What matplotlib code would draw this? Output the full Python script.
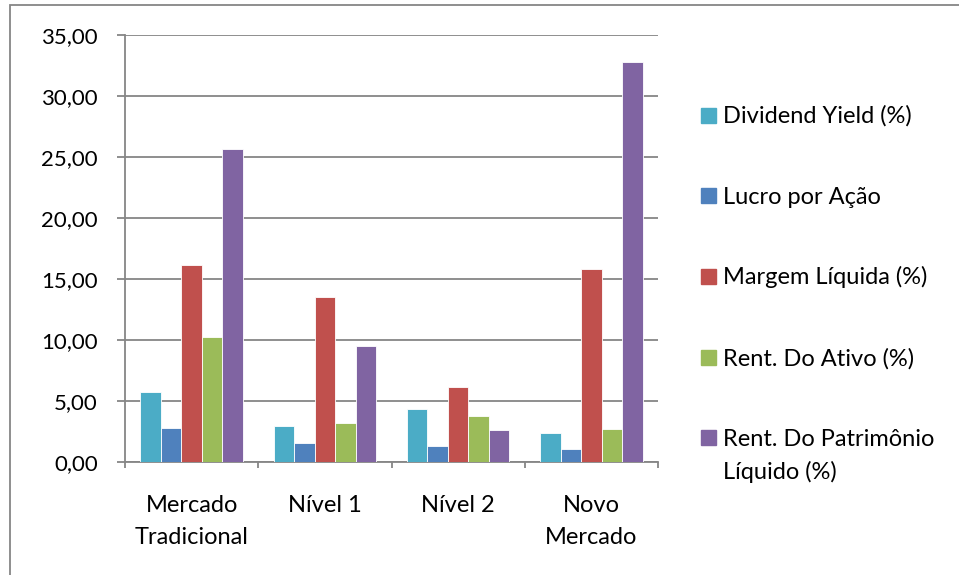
import matplotlib
matplotlib.use('Agg')
import matplotlib.pyplot as plt
from matplotlib.patches import Rectangle
from matplotlib.ticker import FuncFormatter
import numpy as np

plt.rcParams['font.family'] = ['Lato', 'DejaVu Sans']

# segmentos de listagem
categorias = ['Mercado\nTradicional', 'Nível 1', 'Nível 2', 'Novo\nMercado']
series = ['Dividend Yield (%)', 'Lucro por Ação', 'Margem Líquida (%)',
          'Rent. Do Ativo (%)', 'Rent. Do Patrimônio\nLíquido (%)']
dividend_yield = [5.69, 2.95, 4.34, 2.33]
lucro_acao = [2.79, 1.50, 1.29, 1.07]
margem_liquida = [16.15, 13.47, 6.12, 15.82]
rent_ativo = [10.19, 3.20, 3.75, 2.70]
rent_pl = [25.60, 9.51, 2.60, 32.74]
cores = ['#4BACC6', '#4F81BD', '#C0504D', '#9BBB59', '#8064A2']

valores = [dividend_yield, lucro_acao, margem_liquida, rent_ativo, rent_pl]

W, H = 959, 575
fonte = 17
fig = plt.figure(figsize=(W / 100, H / 100), dpi=100)
ax = fig.add_axes([125 / W, (H - 461.7) / H, (658 - 125) / W, (461.7 - 34.7) / H])

cinza = '#868686'
largura = 0.154
x = np.arange(len(categorias))
for k, (nome, vals, cor) in enumerate(zip(series, valores, cores)):
    ax.bar(x + (k - 2) * largura, vals, largura, color=cor,
           edgecolor='white', linewidth=0.6, zorder=3)

ax.set_xlim(-0.5, len(categorias) - 0.5)
ax.set_ylim(0, 35)
ax.set_yticks(np.arange(0, 36, 5))
ax.yaxis.set_major_formatter(FuncFormatter(lambda v, p: f'{v:.2f}'.replace('.', ',')))
ax.grid(axis='y', color=cinza, linewidth=1.3, zorder=0)

# divisões entre categorias e rótulos centralizados
ax.set_xticks(np.arange(-0.5, len(categorias)), labels=[])
ax.set_xticks(x, labels=categorias, minor=True)
ax.tick_params(axis='x', which='major', length=4.5, width=1.3, color=cinza)
ax.tick_params(axis='x', which='minor', length=0, pad=24, labelsize=fonte)
ax.tick_params(axis='y', length=6, width=1.3, color=cinza, pad=13.5, labelsize=16)
for t in ax.get_xticklabels(minor=True):
    t.set_multialignment('center')
    t.set_linespacing(1.66)

for s in ['top', 'right']:
    ax.spines[s].set_visible(False)
for s in ['left', 'bottom']:
    ax.spines[s].set_color(cinza)
    ax.spines[s].set_linewidth(1.3)

# legenda: uma linha de texto por vez, alinhada pela linha de base
y0, passo, entrelinha = 123, 80.7, 33
for k, (nome, cor) in enumerate(zip(series, cores)):
    yb = y0 + k * passo
    fig.patches.append(Rectangle((701 / W, (H - yb + 0.5) / H), 15 / W, 15 / H,
                                 transform=fig.transFigure, color=cor))
    for j, linha in enumerate(nome.split('\n')):
        fig.text(723 / W, (H - yb - j * entrelinha) / H, linha, fontsize=fonte,
                 va='baseline', ha='left')

# moldura do gráfico
fig.patches.append(Rectangle((9.5 / W, -0.1), 1.2, (H - 5 + 0.1 * H) / H,
                             transform=fig.transFigure, fill=False,
                             edgecolor=cinza, linewidth=1.3))

fig.savefig('out.png', dpi=100)
